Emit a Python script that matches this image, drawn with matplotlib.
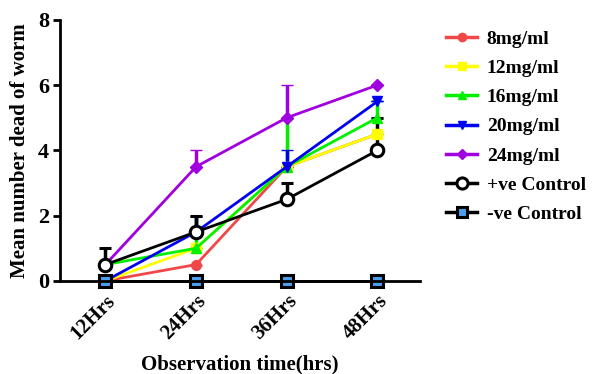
import matplotlib
matplotlib.use('Agg')
from matplotlib import pyplot as plt
from matplotlib.lines import Line2D

plt.rcParams['font.family'] = ['Liberation Serif', 'DejaVu Serif']
plt.rcParams['font.weight'] = 'bold'

times = ['12Hrs', '24Hrs', '36Hrs', '48Hrs']
x = [1, 2, 3, 4]

labels = ['8mg/ml', '12mg/ml', '16mg/ml', '20mg/ml', '24mg/ml', '+ve Control', '-ve Control']
mg8 = [0, 0.5, 3.5, 4.5]
mg12 = [0, 1.0, 3.5, 4.5]
mg16 = [0.5, 1.0, 3.5, 5.0]
mg20 = [0, 1.5, 3.5, 5.5]
mg24 = [0.5, 3.5, 5.0, 6.0]
pos_ctrl = [0.5, 1.5, 2.5, 4.0]
neg_ctrl = [0, 0, 0, 0]

# upper error (SEM)
err8 = [0, 0, 0, 0]
err12 = [0, 0, 0, 0]
err16 = [0, 1.0, 1.5, 0.5]
err20 = [0, 0.5, 0.5, 0]
err24 = [0, 0.5, 1.0, 0]
err_pos = [0.5, 0.5, 0.5, 1.0]
err_neg = [0, 0, 0, 0]

series = [mg8, mg12, mg16, mg20, mg24, pos_ctrl, neg_ctrl]
errors = [err8, err12, err16, err20, err24, err_pos, err_neg]
colors = ['#f04848', '#ffff00', '#00f000', '#0000f0', '#a000e0', 'black', 'black']
markers = ['o', 's', '^', 'v', 'D', 'o', 's']
faces = ['#f04848', '#ffff00', '#00f000', '#0000f0', '#a000e0', 'white', '#4a9ff0']
sizes = [7, 7, 7, 7, 6, 9, 8]

fig = plt.figure(figsize=(5.95, 3.74), dpi=100)
ax = fig.add_axes([0.101, 0.249, 0.605, 0.698])

handles = []
for vals, err, c, m, fc, ms, lab in zip(series, errors, colors, markers, faces, sizes, labels):
    mew = 2.2 if c == 'black' else 1
    ax.errorbar(x, vals, yerr=[[0] * 4, err], color=c, marker=m, markerfacecolor=fc,
                markeredgecolor=c, markersize=ms, markeredgewidth=mew,
                linewidth=2, elinewidth=2.5, capsize=4, capthick=2.5, clip_on=False)
    handles.append(Line2D([], [], color=c, marker=m, markerfacecolor=fc, markeredgecolor=c,
                          markersize=ms - 1, markeredgewidth=mew, linewidth=2.5, label=lab))

ax.set_xlim(0.5, 4.47)
ax.set_ylim(0, 8)
ax.set_yticks([0, 2, 4, 6, 8])
ax.set_xticks(x)
ax.set_xticklabels(times, rotation=45, ha='right', rotation_mode='anchor', fontsize=15)
ax.tick_params(axis='x', length=0, pad=7)
ax.tick_params(axis='y', length=5, width=2, labelsize=16, pad=3)
for s in ['top', 'right']:
    ax.spines[s].set_visible(False)
ax.spines['left'].set_linewidth(2)
ax.spines['bottom'].set_linewidth(2)

ax.set_xlabel('Observation time(hrs)', fontsize=15, fontweight='bold', labelpad=8)
ax.set_ylabel('Mean number dead of worm', fontsize=15, fontweight='bold', labelpad=6)

fig.legend(handles=handles, loc='upper left', bbox_to_anchor=(446 / 595, 1 - 30 / 374),
           frameon=False, fontsize=14, handlelength=1.6, labelspacing=0.6,
           handletextpad=0.5, borderaxespad=0, borderpad=0)

fig.savefig('out.png', dpi=100)
